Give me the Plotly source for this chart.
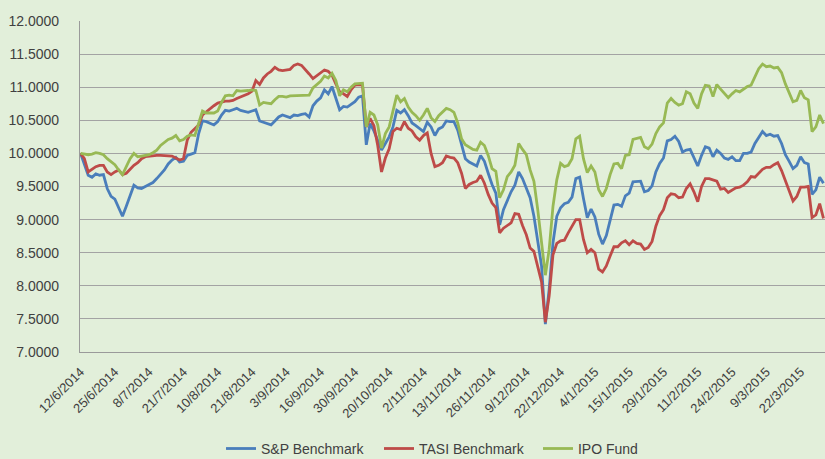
import plotly.graph_objects as go

tick_labels = ["12/6/2014", "25/6/2014", "8/7/2014", "21/7/2014", "10/8/2014", "21/8/2014",
               "3/9/2014", "16/9/2014", "30/9/2014", "20/10/2014", "2/11/2014", "13/11/2014",
               "26/11/2014", "9/12/2014", "22/12/2014", "4/1/2015", "15/1/2015", "29/1/2015",
               "11/2/2015", "24/2/2015", "9/3/2015", "22/3/2015"]
label_step = 9

sp_benchmark = [
    10.00, 9.82, 9.67, 9.64, 9.69, 9.67, 9.68, 9.47, 9.35, 9.31,
    9.19, 9.05, 9.20, 9.37, 9.52, 9.48, 9.47, 9.50, 9.53, 9.56,
    9.62, 9.69, 9.75, 9.84, 9.90, 9.94, 9.87, 9.88, 9.97, 9.99,
    10.01, 10.30, 10.49, 10.48, 10.46, 10.43, 10.48, 10.58, 10.65, 10.64,
    10.66, 10.68, 10.65, 10.63, 10.62, 10.64, 10.66, 10.49, 10.47, 10.45,
    10.43, 10.49, 10.55, 10.58, 10.56, 10.54, 10.58, 10.57, 10.59, 10.60,
    10.55, 10.72, 10.79, 10.84, 10.96, 10.90, 11.01, 10.85, 10.66, 10.71,
    10.70, 10.74, 10.78, 10.85, 10.87, 10.13, 10.45, 10.34, 10.19, 10.05,
    10.15, 10.25, 10.40, 10.65, 10.61, 10.66, 10.57, 10.46, 10.42, 10.38,
    10.33, 10.47, 10.40, 10.27, 10.37, 10.40, 10.49, 10.48, 10.48, 10.35,
    10.15, 9.92, 9.87, 9.84, 9.81, 9.97, 9.88, 9.70, 9.53, 9.40,
    8.92, 9.15, 9.30, 9.42, 9.52, 9.72, 9.62, 9.48, 9.33, 9.05,
    8.70, 8.30, 7.42, 7.95, 8.65, 9.05, 9.18, 9.24, 9.26, 9.34,
    9.62, 9.64, 9.32, 9.03, 9.16, 9.04, 8.78, 8.63, 8.76, 9.00,
    9.22, 9.23, 9.20, 9.36, 9.40, 9.57, 9.58, 9.58, 9.42, 9.44,
    9.51, 9.72, 9.85, 9.93, 10.19, 10.21, 10.26, 10.18, 10.02, 10.05,
    10.06, 9.94, 9.81, 9.97, 10.10, 10.08, 9.95, 10.05, 10.00, 9.93,
    9.91, 9.95, 9.89, 9.89, 10.00, 10.00, 10.02, 10.15, 10.25, 10.33,
    10.27, 10.29, 10.26, 10.27, 10.15, 9.98, 9.88, 9.77, 9.82, 9.95,
    9.86, 9.84, 9.38, 9.45, 9.64, 9.55,
]

tasi_benchmark = [
    10.00, 9.92, 9.72, 9.76, 9.80, 9.82, 9.82, 9.72, 9.68, 9.72,
    9.75, 9.68, 9.70, 9.76, 9.82, 9.86, 9.92, 9.95, 9.96, 9.97,
    9.97, 9.97, 9.97, 9.97, 9.96, 9.93, 9.90, 9.92, 10.20, 10.32,
    10.38, 10.43, 10.58, 10.63, 10.68, 10.72, 10.76, 10.78, 10.79, 10.79,
    10.80, 10.83, 10.85, 10.87, 10.90, 10.94, 11.10, 11.04, 11.14, 11.20,
    11.24, 11.30, 11.26, 11.25, 11.26, 11.27, 11.33, 11.35, 11.33, 11.27,
    11.20, 11.13, 11.17, 11.22, 11.26, 11.24, 11.18, 11.05, 10.93, 10.90,
    10.86, 10.96, 11.03, 11.04, 11.03, 10.40, 10.53, 10.42, 10.12, 9.72,
    9.93, 10.07, 10.33, 10.38, 10.36, 10.48, 10.38, 10.34, 10.25, 10.20,
    10.27, 10.31, 10.00, 9.80, 9.82, 9.86, 9.96, 9.94, 9.93, 9.86,
    9.70, 9.47, 9.53, 9.56, 9.58, 9.67, 9.55, 9.38, 9.25, 9.18,
    8.80, 8.87, 8.91, 8.95, 9.09, 9.08, 8.91, 8.77, 8.57, 8.52,
    8.29, 8.06, 7.45, 7.85, 8.47, 8.64, 8.68, 8.69, 8.80, 8.89,
    9.00, 9.00, 8.70, 8.50, 8.55, 8.50, 8.25, 8.21, 8.30, 8.45,
    8.59, 8.59, 8.65, 8.68, 8.62, 8.68, 8.64, 8.63, 8.55, 8.58,
    8.67, 8.90, 9.06, 9.15, 9.33, 9.39, 9.38, 9.33, 9.34, 9.47,
    9.54, 9.42, 9.27, 9.50, 9.62, 9.62, 9.60, 9.58, 9.46, 9.47,
    9.41, 9.45, 9.48, 9.49, 9.52, 9.57, 9.65, 9.64, 9.70, 9.76,
    9.79, 9.79, 9.83, 9.86, 9.74, 9.58, 9.45, 9.28, 9.35, 9.49,
    9.49, 9.50, 9.03, 9.07, 9.24, 9.02,
]

ipo_fund = [
    10.00, 9.99, 9.98, 9.99, 10.01, 10.00, 9.98, 9.92, 9.87, 9.83,
    9.75, 9.68, 9.80, 9.92, 10.00, 9.95, 9.96, 9.97, 9.98, 10.01,
    10.05, 10.12, 10.16, 10.21, 10.23, 10.27, 10.19, 10.21, 10.26, 10.28,
    10.27, 10.45, 10.64, 10.61, 10.61, 10.61, 10.64, 10.77, 10.87, 10.88,
    10.87, 10.95, 10.94, 10.94, 10.95, 10.96, 10.95, 10.73, 10.77, 10.76,
    10.75, 10.81, 10.86, 10.86, 10.85, 10.87, 10.87, 10.87, 10.88, 10.87,
    10.88, 10.99, 11.04, 11.09, 11.17, 11.14, 11.21, 11.10, 10.87, 10.96,
    10.93, 11.00, 11.05, 11.06, 11.06, 10.40, 10.62, 10.58, 10.43, 10.08,
    10.30, 10.40, 10.63, 10.88, 10.78, 10.83, 10.70, 10.62, 10.57, 10.50,
    10.58, 10.68, 10.54, 10.48, 10.57, 10.63, 10.68, 10.66, 10.62, 10.46,
    10.22, 10.13, 10.10, 10.06, 10.05, 10.17, 10.12, 9.97, 9.77, 9.73,
    9.33, 9.45, 9.65, 9.72, 9.82, 10.15, 10.06, 9.98, 9.75, 9.58,
    9.15, 8.65, 8.16, 8.55, 9.20, 9.60, 9.85, 9.80, 9.82, 9.92,
    10.22, 10.26, 9.92, 9.71, 9.81, 9.72, 9.45, 9.35, 9.47, 9.68,
    9.84, 9.85, 9.77, 9.97, 9.98, 10.21, 10.22, 10.24, 10.10, 10.07,
    10.14, 10.30, 10.40, 10.46, 10.76, 10.83, 10.77, 10.73, 10.75, 10.93,
    10.90, 10.76, 10.68, 10.90, 11.03, 11.02, 10.86, 11.04, 10.97, 10.90,
    10.84, 10.90, 10.95, 10.93, 10.97, 11.01, 11.03, 11.15, 11.28, 11.35,
    11.31, 11.32, 11.29, 11.30, 11.22, 11.05, 10.92, 10.78, 10.80, 10.95,
    10.84, 10.81, 10.33, 10.40, 10.58, 10.45,
]

series_names = ["S&P Benchmark", "TASI Benchmark", "IPO Fund"]
series_colors = ["#4A7EBB", "#BE4B48", "#98B954"]
legend_ids = ["legend", "legend2", "legend3"]
legend_x = [0.2679, 0.4594, 0.6521]

x_idx = list(range(len(sp_benchmark)))
tick_vals = [i * label_step for i in range(len(tick_labels))]

fig = go.Figure()
for name, vals, col, lid in zip(series_names, [sp_benchmark, tasi_benchmark, ipo_fund],
                                series_colors, legend_ids):
    fig.add_trace(go.Scatter(x=x_idx, y=vals, mode="lines", name=name, legend=lid,
                             line=dict(color=col, width=2.8)))

bg = "#E2EFDA"
legend_common = dict(orientation="h", xref="container", yref="container",
                     xanchor="left", y=0.022, yanchor="middle",
                     font=dict(size=14, color="#404040"), itemwidth=30,
                     bgcolor="rgba(0,0,0,0)")
fig.update_layout(
    width=825, height=459,
    margin=dict(l=80, r=0, t=21, b=107),
    paper_bgcolor=bg, plot_bgcolor=bg,
    font=dict(family="Liberation Sans, Arial, sans-serif", color="#404040"),
    showlegend=True,
    legend=dict(x=legend_x[0], **legend_common),
    legend2=dict(x=legend_x[1], **legend_common),
    legend3=dict(x=legend_x[2], **legend_common),
)
fig.update_xaxes(
    range=[-0.15, 195.4], tickmode="array", tickvals=tick_vals, ticktext=tick_labels,
    tickangle=-45, tickfont=dict(size=13, color="#404040"), ticklabelstandoff=6,
    showgrid=False, zeroline=False, showline=True, linecolor="#9A9A9A", linewidth=1.2,
    ticks="", automargin=False, fixedrange=True,
)
fig.update_yaxes(
    range=[7, 12], dtick=0.5, tick0=7, tickformat=".4f",
    tickfont=dict(size=14, color="#404040"), ticklabelstandoff=17,
    showgrid=True, gridcolor="#A3A3A3", gridwidth=1.2, zeroline=False,
    showline=True, linecolor="#9A9A9A", linewidth=1.2, ticks="", automargin=False,
)

fig.write_html("out.html", config={"displayModeBar": False},
               post_script="document.body.style.margin='0';document.body.style.overflow='hidden';")
